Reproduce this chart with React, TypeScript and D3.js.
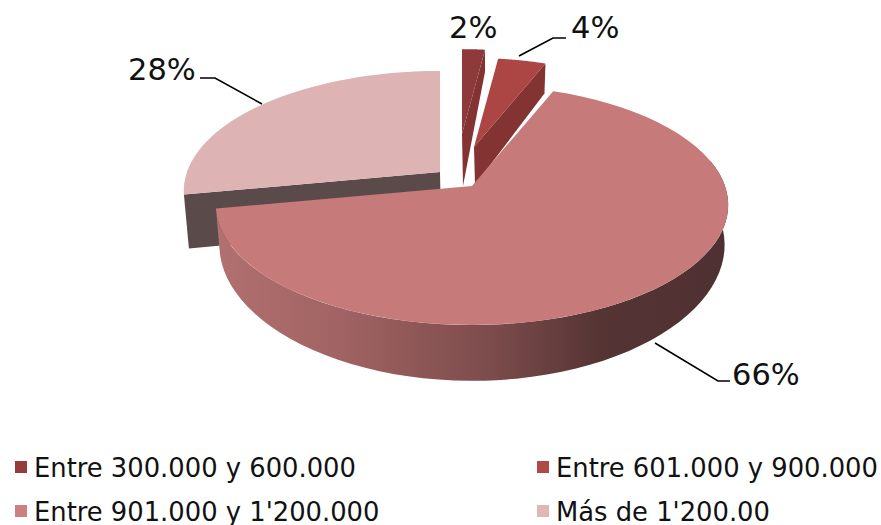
import React from "react";
import * as d3 from "d3";

const categories = ["Entre 300.000 y 600.000", "Entre 601.000 y 900.000", "Entre 901.000 y 1'200.000", "Más de 1'200.00"];
const shares = [2, 4, 66, 28];
const labels = ["2%", "4%", "66%", "28%"];
const topColors = ["#8f3a3a", "#ab4644", "#c67a7a", "#deb3b3"];
const legendColors = ["#953c3c", "#b04846", "#cc8080", "#e0b6b6"];
const cutColors = ["#843333", "#843333", "#5a4a4a", "#5a4a4a"];

// projection of the tilted disc
const R = 253, H = 117, K = 0.158;
// per-slice explosion: apex on screen, scale, wall depth at apex/rim, rim slant
const layout = [
  { ax: 462, ay: 134, s: 0.84, dA: 52, dR: 22, sl: 0 },
  { ax: 474, ay: 147, s: 0.88, dA: 38, dR: 30, sl: -1 },
  { ax: 472, ay: 186, s: 1, dA: 38, dR: 0, sl: 0 },
  { ax: 440, ay: 172, s: 1, dA: 53, dR: 54, sl: 5 },
];

type P = [number, number];
const proj = (i: number, ang: number): P => {
  const l = layout[i];
  const u = Math.sin(ang), v = -Math.cos(ang);
  const w = 1 - K * v;
  return [l.ax + (l.s * R * u) / w, l.ay + (l.s * H * v) / w];
};
const wallDepth = (ang: number) => 38 / (1 - 0.32 * -Math.cos(ang));
const lower = (i: number, ang: number): P => {
  const [x, y] = proj(i, ang);
  return [x + (472 - x) * 0.014, y + wallDepth(ang)];
};

const line = d3.line<P>().curve(d3.curveLinear);
const sweep = (a: number, b: number) => d3.range(0, 61).map((t) => a + ((b - a) * t) / 60);

const wallStops = d3
  .scaleLinear<string>()
  .domain([0, 0.25, 0.55, 0.75, 1])
  .range(["#b27070", "#a06262", "#7a4a4a", "#553434", "#4f3032"]);

export default function App() {
  const arcs = d3.pie<number>().sort(null).startAngle(0).endAngle(2 * Math.PI)(shares);
  const face = (i: number) => {
    const a = arcs[i];
    return line([[layout[i].ax, layout[i].ay], ...sweep(a.startAngle, a.endAngle).map((t) => proj(i, t))])! + "Z";
  };
  const cut = (i: number, ang: number) => {
    const l = layout[i];
    const p = proj(i, ang);
    return line([[l.ax, l.ay], p, [p[0] + l.sl, p[1] + l.dR], [l.ax + 1, l.ay + l.dA]])! + "Z";
  };
  const main = arcs[2];
  const wallAngles = sweep(1.35, main.endAngle);
  const mainWall =
    line([...wallAngles.map((t) => proj(2, t)), ...wallAngles.slice().reverse().map((t) => lower(2, t))])! + "Z";

  const textStyle = { fontFamily: "DejaVu Sans", fill: "#111" };
  return (
    <svg width={881} height={525} style={{ position: "absolute", left: 0, top: 0 }}>
      <defs>
        <linearGradient id="wall" gradientUnits="userSpaceOnUse" x1={218} y1={0} x2={729} y2={0}>
          {[0, 0.25, 0.55, 0.75, 1].map((o) => (
            <stop key={o} offset={o} stopColor={wallStops(o)} />
          ))}
        </linearGradient>
      </defs>
      <rect width={881} height={525} fill="#fff" />

      {/* far slices */}
      <path d={cut(3, arcs[3].startAngle)} fill={cutColors[3]} />
      <path d={face(3)} fill={topColors[3]} />
      <path d={cut(0, arcs[0].endAngle)} fill={cutColors[0]} />
      <path d={face(0)} fill={topColors[0]} />
      <path d={cut(1, arcs[1].endAngle)} fill={cutColors[1]} />
      <path d={face(1)} fill={topColors[1]} />

      {/* main slice */}
      <path d={mainWall} fill="url(#wall)" />
      <path d={face(2)} fill={topColors[2]} />

      {/* leader lines */}
      <g fill="none" stroke="#000" strokeWidth={1.6}>
        <path d={line([[519, 56], [553, 38], [566, 38]])!} />
        <path d={line([[200, 78], [215, 78], [262, 104]])!} />
        <path d={line([[655, 343], [718, 381], [730, 381]])!} />
      </g>

      {/* data labels */}
      <g style={textStyle} fontSize={30.5}>
        <text x={449} y={38}>{labels[0]}</text>
        <text x={571} y={38}>{labels[1]}</text>
        <text x={732} y={385}>{labels[2]}</text>
        <text x={128} y={80}>{labels[3]}</text>
      </g>

      {/* legend */}
      <g style={textStyle} fontSize={25.8}>
        {categories.map((c, i) => {
          const x = i % 2 === 0 ? 15 : 537;
          const y = i < 2 ? 461 : 505;
          return (
            <g key={c}>
              <rect x={x} y={y} width={12} height={12} fill={legendColors[i]} />
              <text x={x + 19} y={y + 16}>{c}</text>
            </g>
          );
        })}
      </g>
    </svg>
  );
}
